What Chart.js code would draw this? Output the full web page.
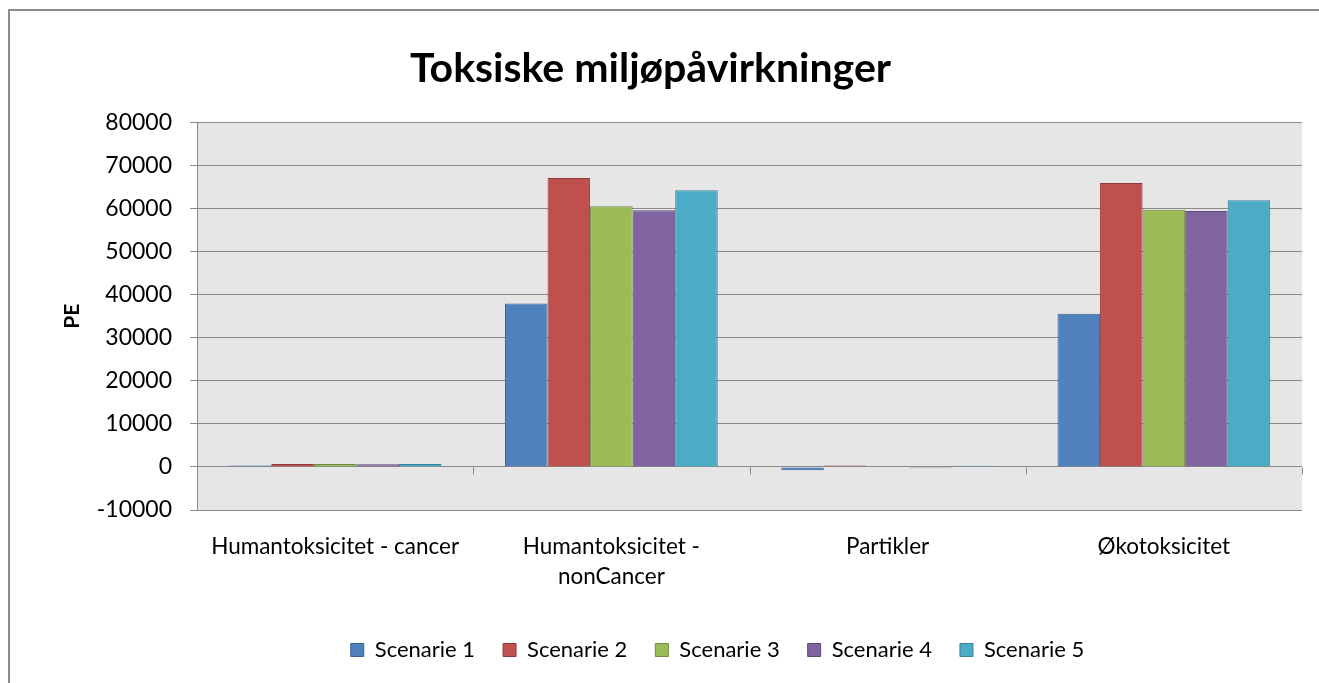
<!DOCTYPE html>
<html>
<head>
<meta charset="utf-8">
<script src="https://cdn.jsdelivr.net/npm/chart.js@4/dist/chart.umd.min.js"></script>
<style>
  html, body { margin: 0; padding: 0; background: #ffffff; }
  #wrap { width: 1319px; height: 683px; position: relative; }
</style>
</head>
<body>
<div id="wrap"><canvas id="c" width="1319" height="683"></canvas></div>
<script>
const categories = [
  "Humantoksicitet - cancer",
  ["Humantoksicitet -", "nonCancer"],
  "Partikler",
  "Økotoksicitet"
];
const seriesNames = ["Scenarie 1", "Scenarie 2", "Scenarie 3", "Scenarie 4", "Scenarie 5"];
const scenarie1 = [300, 37900, -800, 35550];
const scenarie2 = [700, 67050, 300, 65900];
const scenarie3 = [650, 60500, 100, 59700];
const scenarie4 = [600, 59550, -300, 59400];
const scenarie5 = [650, 64200, 250, 61900];
const yMin = -10000, yMax = 80000, yStep = 10000;

const fills = ["#4F81BD", "#C0504D", "#9BBB59", "#8064A2", "#4BACC6"];
const borders = ["#3A6496", "#8F3B39", "#718B41", "#5E4A78", "#37819A"];
const seriesValues = [scenarie1, scenarie2, scenarie3, scenarie4, scenarie5];

const FONT = "Lato";
const GRID = "#8a8a8a";

const bgPlugin = {
  id: 'bg',
  afterLayout(chart) {
    if (chart.legend) { chart.legend.left += 62; chart.legend.right += 62; }
    if (chart.titleBlock) { chart.titleBlock.left -= 5; chart.titleBlock.right -= 5; }
  },
  beforeDraw(chart) {
    const {ctx, chartArea: a} = chart;
    ctx.save();
    ctx.fillStyle = "#ffffff";
    ctx.fillRect(0, 0, chart.width, chart.height);
    ctx.fillStyle = "#e6e6e6";
    ctx.fillRect(a.left, a.top, a.right - a.left, a.bottom - a.top);
    ctx.strokeStyle = "#8c8c8c";
    ctx.lineWidth = 2;
    ctx.beginPath();
    ctx.moveTo(9, chart.height + 5);
    ctx.lineTo(9, 10);
    ctx.lineTo(chart.width + 5, 10);
    ctx.stroke();
    ctx.restore();
  },
  beforeDatasetsDraw(chart) {
    const {ctx, scales: {x, y}} = chart;
    const y0 = Math.round(y.getPixelForValue(0)) + 0.5;
    ctx.save();
    ctx.strokeStyle = GRID;
    ctx.lineWidth = 1;
    ctx.beginPath();
    const n = categories.length;
    const half = (x.getPixelForValue(1) - x.getPixelForValue(0)) / 2;
    for (let i = 0; i < n; i++) {
      const px = Math.round(x.getPixelForValue(i) + half) + 0.5;
      ctx.moveTo(px, y0);
      ctx.lineTo(px, y0 + 7);
    }
    ctx.stroke();
    ctx.restore();
  }
};

new Chart(document.getElementById('c'), {
  type: 'bar',
  data: {
    labels: categories,
    datasets: seriesNames.map((name, i) => ({
      label: name,
      data: seriesValues[i],
      backgroundColor: fills[i],
      borderColor: borders[i],
      borderWidth: 1,
      categoryPercentage: 0.77,
      barPercentage: 1.0
    }))
  },
  plugins: [bgPlugin],
  options: {
    responsive: false,
    animation: false,
    devicePixelRatio: 1,
    layout: { padding: { left: 9, right: 17, top: 0, bottom: 12 } },
    plugins: {
      title: {
        display: true,
        text: "Toksiske miljøpåvirkninger",
        color: "#000",
        font: { family: FONT, size: 41, weight: 'bold' },
        padding: { top: 44, bottom: 29 }
      },
      legend: {
        position: 'bottom',
        labels: {
          color: "#000",
          font: { family: FONT, size: 22 },
          boxWidth: 13,
          boxHeight: 13,
          padding: 28
        }
      },
      tooltip: { enabled: false }
    },
    scales: {
      x: {
        grid: { display: false, drawTicks: false },
        border: { display: false },
        ticks: {
          color: "#000",
          font: { family: FONT, size: 22.5, lineHeight: 1.33 },
          padding: 22,
          maxRotation: 0,
          autoSkip: false
        },
        afterFit(s) { s.height = 101; }
      },
      y: {
        min: yMin,
        max: yMax,
        ticks: {
          stepSize: yStep,
          color: "#000",
          font: { family: FONT, size: 23 },
          padding: 18,
          callback: (v) => String(v)
        },
        grid: { color: GRID, lineWidth: 1, drawTicks: true, tickLength: 7, tickColor: GRID },
        border: { display: true, color: GRID, width: 1 },
        title: {
          display: true,
          text: "PE",
          color: "#000",
          font: { family: FONT, size: 21, weight: 'bold' },
          padding: { top: 51, bottom: 0 }
        },
        afterFit(s) { s.width = 188; }
      }
    }
  }
});
</script>
</body>
</html>
